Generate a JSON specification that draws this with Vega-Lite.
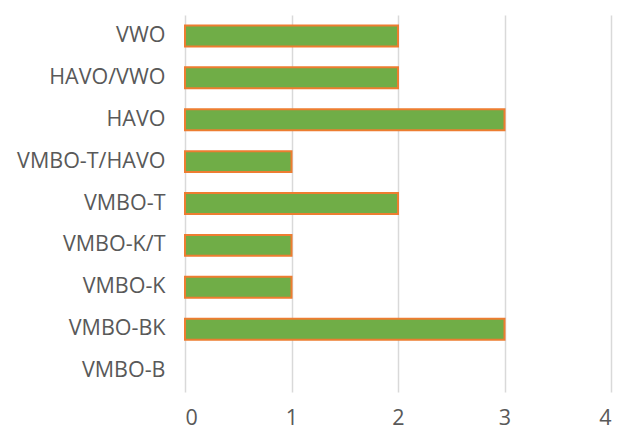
{
  "$schema": "https://vega.github.io/schema/vega-lite/v6.json",
  "autosize": {"type": "none"},
  "padding": {"left": 185, "top": 15, "right": 14, "bottom": 38},
  "width": 426,
  "height": 377,
  "background": "white",
  "data": {"values": [
    {"level": "VWO", "count": 2},
    {"level": "HAVO/VWO", "count": 2},
    {"level": "HAVO", "count": 3},
    {"level": "VMBO-T/HAVO", "count": 1},
    {"level": "VMBO-T", "count": 2},
    {"level": "VMBO-K/T", "count": 1},
    {"level": "VMBO-K", "count": 1},
    {"level": "VMBO-BK", "count": 3},
    {"level": "VMBO-B", "count": 0}
  ]},
  "mark": {"type": "bar", "fill": "#70AD47", "stroke": "#ED7D31", "strokeWidth": 2},
  "encoding": {
    "y": {
      "field": "level", "type": "nominal", "sort": null,
      "scale": {"paddingInner": 0.5, "paddingOuter": 0.25},
      "axis": {"title": null, "domain": false, "ticks": false, "labelPadding": 20, "labelFont": "Open Sans", "labelFontSize": 21.5, "labelColor": "#595959", "grid": false}
    },
    "x": {
      "field": "count", "type": "quantitative",
      "scale": {"domain": [0, 4]},
      "axis": {"title": null, "domain": false, "ticks": false, "tickCount": 4, "labelPadding": 15, "labelFont": "Open Sans", "labelFontSize": 21.5, "labelColor": "#595959", "gridColor": "#D9D9D9", "gridWidth": 1.5}
    },
    "strokeOpacity": {"condition": {"test": "datum.count === 0", "value": 0}, "value": 1}
  },
  "config": {"view": {"stroke": null}}
}
